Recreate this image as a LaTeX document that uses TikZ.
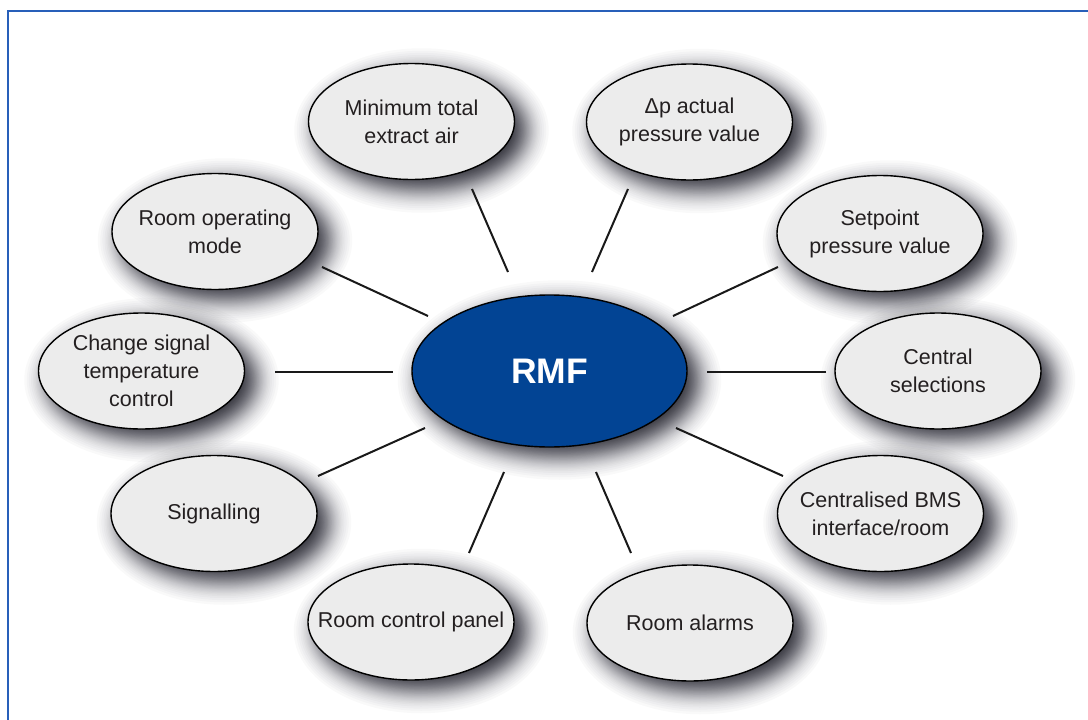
\documentclass[tikz,border=0pt]{standalone}
\usepackage{fontspec}
\setmainfont{Liberation Sans}
\usetikzlibrary{shapes.geometric}
\definecolor{rmfblue}{RGB}{2,68,148}
\definecolor{bubblegray}{RGB}{236,236,236}
\definecolor{framecol}{RGB}{40,95,185}
\definecolor{txtcol}{RGB}{35,31,32}
\definecolor{shadecol}{RGB}{30,30,40}
\tikzset{
  bubble/.style={ellipse, draw=black, line width=1.4pt, fill=bubblegray,
    minimum width=206pt, minimum height=116pt, inner sep=0pt},
  lbl/.style={align=center, text=txtcol, font=\fontsize{21.5}{28}\selectfont, inner sep=0pt},
  hub/.style={ellipse, draw=black, line width=1.4pt, fill=rmfblue,
    minimum width=275pt, minimum height=152pt, inner sep=0pt, text=white,
    font=\fontsize{35.5}{40}\selectfont\bfseries},
  link/.style={line width=2pt, draw=black!90},
  shadelayer/.style={fill=shadecol}
}
% Gaussian-like soft shadow built from stacked translucent ellipses
\newcommand\softshade[3]{%
  \foreach \q [count=\k] in {19.0,17.0,15.3,13.6,12.1,10.9,9.8,8.9,8.0,7.1,6.4,5.6,4.9,4.2,3.5,2.9,2.2,1.6,0.9,0.3,
      -0.3,-0.9,-1.6,-2.2,-2.9,-3.5,-4.2,-4.9,-5.6,-6.4,-7.1,-8.0,-8.9,-9.8,-10.9,-12.1,-13.6,-15.3,-17.8,-22.4}{%
    \pgfmathsetmacro\aa{1-(1-0.02375*\k)/(1-0.02375*(\k-1))}%
    \fill[shadelayer, fill opacity=\aa] ([shift={(10,9)}]#1) ellipse [x radius=#2+1.25*\q, y radius=#3+1.25*\q];
  }%
}
\begin{document}
\begin{tikzpicture}[x=1pt,y=-1pt]
\useasboundingbox (0,0) rectangle (1088,720);
\fill[white] (0,0) rectangle (1088,720);
\coordinate (fa) at (8,720);
\coordinate (fb) at (8,11);
\coordinate (fc) at (1088,11);
\draw[framecol, line width=2pt] (fa) -- (fb) -- (fc);

% centres
\coordinate (p0) at (549.5,371);
\coordinate (p1) at (411.5,121.5);
\coordinate (p2) at (689.5,122);
\coordinate (p3) at (215,231.5);
\coordinate (p4) at (880,233.5);
\coordinate (p5) at (141.5,371);
\coordinate (p6) at (938,371);
\coordinate (p7) at (214,513.5);
\coordinate (p8) at (880.5,513.5);
\coordinate (p9) at (411,622);
\coordinate (p10) at (690,623);

% soft drop shadows
\softshade{p0}{138}{76}
\foreach \n in {1,...,10}{\softshade{p\n}{103.5}{58.5}}

\node[hub] (rmf) at (p0) {RMF};
\node[bubble, label={[lbl]center:{Minimum total\\extract air}}] (mte) at (p1) {};
\node[bubble, label={[lbl]center:{Δp actual\\pressure value}}] (dp) at (p2) {};
\node[bubble, label={[lbl]center:{Room operating\\mode}}] (rom) at (p3) {};
\node[bubble, label={[lbl]center:{Setpoint\\pressure value}}] (spv) at (p4) {};
\node[bubble, label={[lbl]center:{Change signal\\temperature\\control}}] (csc) at (p5) {};
\node[bubble, label={[lbl]center:{Central\\selections}}] (cs) at (p6) {};
\node[bubble, label={[lbl]center:{Signalling}}] (sig) at (p7) {};
\node[bubble, label={[lbl]center:{Centralised BMS\\interface/room}}] (bms) at (p8) {};
\node[bubble, label={[lbl]center:{Room control panel}}] (rcp) at (p9) {};
\node[bubble, label={[lbl]center:{Room alarms}}] (ra) at (p10) {};

% connector end points
\coordinate (a1) at (472,189); \coordinate (b1) at (508,272);
\coordinate (a2) at (628,189); \coordinate (b2) at (592,272);
\coordinate (a3) at (322,267); \coordinate (b3) at (428,316);
\coordinate (a4) at (778,267); \coordinate (b4) at (673,316);
\coordinate (a5) at (275,372); \coordinate (b5) at (393,372);
\coordinate (a6) at (826,372); \coordinate (b6) at (707,372);
\coordinate (a7) at (318,476); \coordinate (b7) at (425,428);
\coordinate (a8) at (783,476); \coordinate (b8) at (676,428);
\coordinate (a9) at (469,553); \coordinate (b9) at (504,472);
\coordinate (a10) at (631,553); \coordinate (b10) at (596,472);

\draw[link] (a1) -- (b1);
\draw[link] (a2) -- (b2);
\draw[link] (a3) -- (b3);
\draw[link] (a4) -- (b4);
\draw[link] (a5) -- (b5);
\draw[link] (a6) -- (b6);
\draw[link] (a7) -- (b7);
\draw[link] (a8) -- (b8);
\draw[link] (a9) -- (b9);
\draw[link] (a10) -- (b10);
\end{tikzpicture}
\end{document}
